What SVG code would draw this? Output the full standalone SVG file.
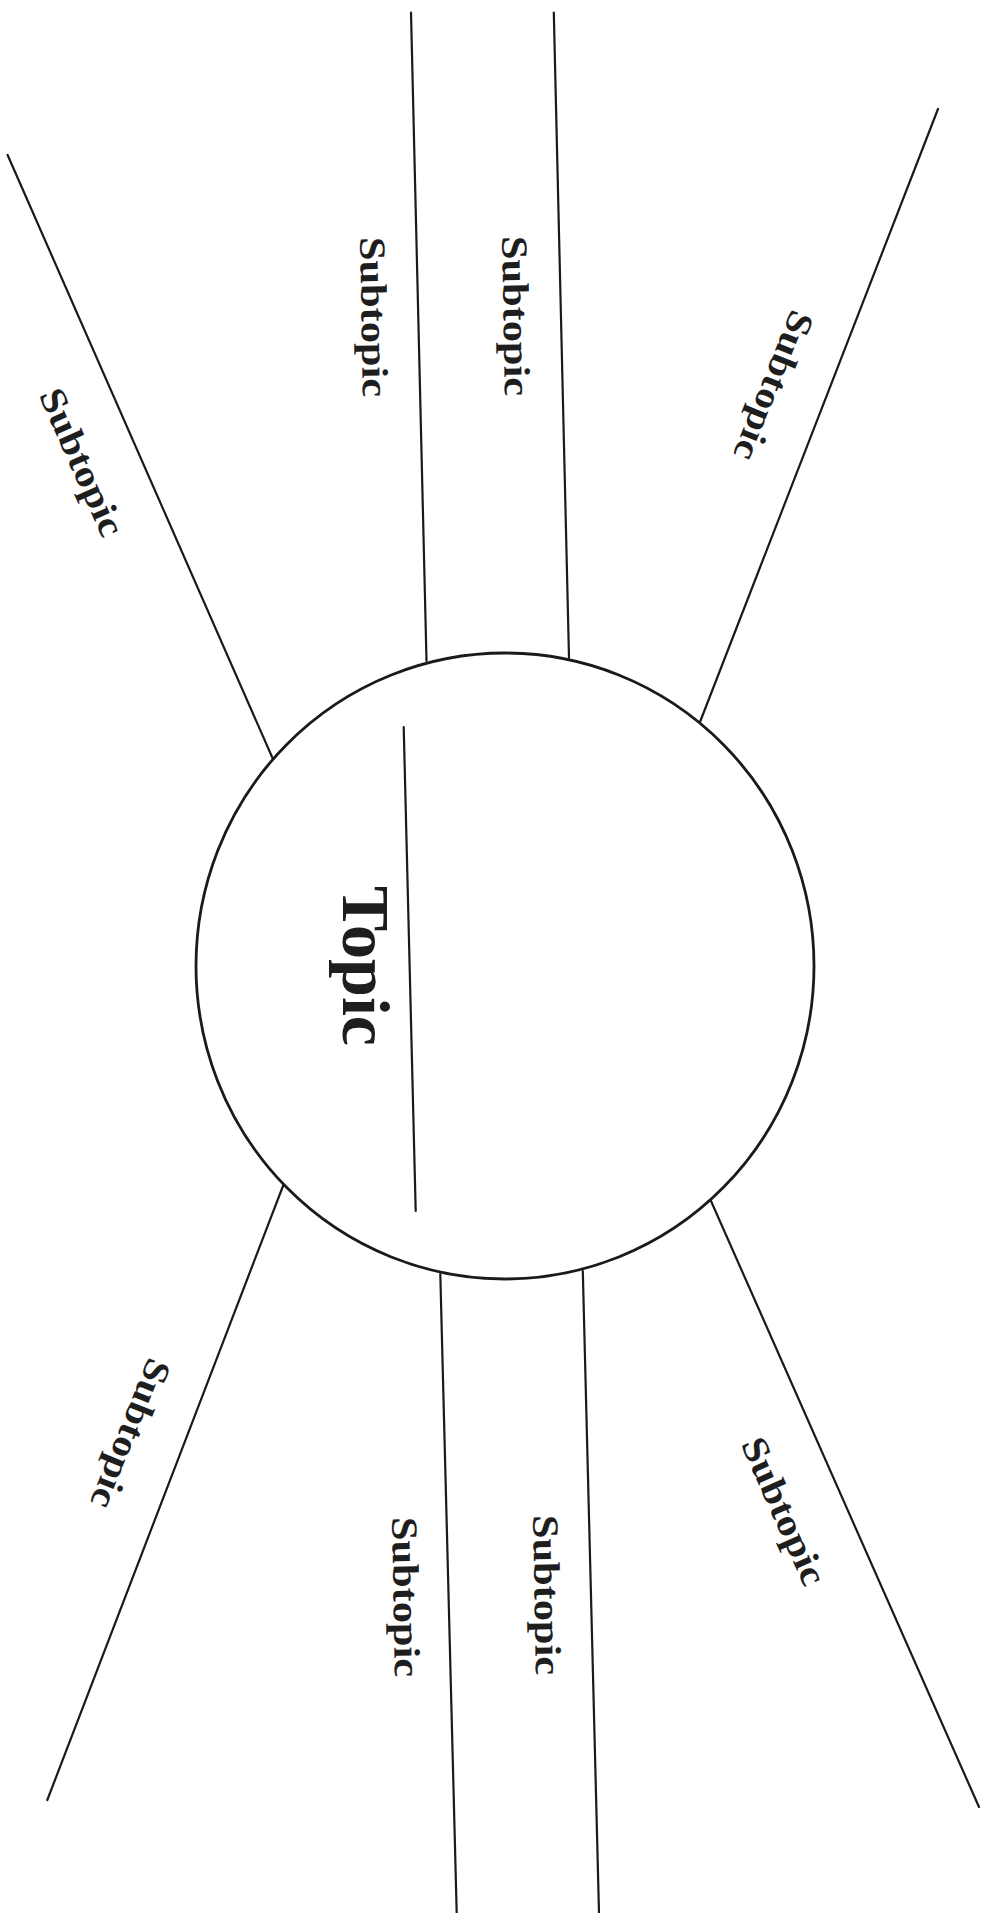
<svg xmlns="http://www.w3.org/2000/svg" width="989" height="1913" viewBox="0 0 989 1913">
<style>
.ln{stroke:#1a1a1a;stroke-width:2.2;fill:none;stroke-linecap:round}
.circ{stroke:#1a1a1a;stroke-width:2.8;fill:#fff}
.sub{font-family:"Liberation Serif","Times New Roman",serif;font-weight:bold;font-size:37px;fill:#1e1e1e;text-anchor:middle;dominant-baseline:central}
.top{font-family:"Liberation Serif","Times New Roman",serif;font-weight:bold;font-size:68px;fill:#1e1e1e}
</style>
<rect width="989" height="1913" fill="#fff"/>
<g id="connectors">
<line class="ln" x1="7.6" y1="155" x2="272.5" y2="758"/>
<line class="ln" x1="411" y1="12.5" x2="426.5" y2="661"/>
<line class="ln" x1="553.8" y1="12.5" x2="569" y2="658"/>
<line class="ln" x1="938" y1="109" x2="700" y2="722"/>
<line class="ln" x1="283" y1="1186" x2="47.3" y2="1800"/>
<line class="ln" x1="440.3" y1="1274" x2="456.7" y2="1913"/>
<line class="ln" x1="582.8" y1="1271" x2="599" y2="1913"/>
<line class="ln" x1="711" y1="1201" x2="979" y2="1807"/>
</g>
<g id="topic">
<ellipse class="circ" cx="505" cy="966" rx="309" ry="313"/>
<line class="ln" x1="403.7" y1="727" x2="415.7" y2="1211"/>
<text class="top" transform="translate(343,886) rotate(90)">Topic</text>
</g>
<g id="subtopic-1"><text class="sub" transform="translate(82,462) rotate(66)" textLength="158" lengthAdjust="spacingAndGlyphs">Subtopic</text></g>
<g id="subtopic-2"><text class="sub" transform="translate(374,317) rotate(89)" textLength="160" lengthAdjust="spacingAndGlyphs">Subtopic</text></g>
<g id="subtopic-3"><text class="sub" transform="translate(516,316) rotate(89)" textLength="160" lengthAdjust="spacingAndGlyphs">Subtopic</text></g>
<g id="subtopic-4"><text class="sub" transform="translate(774,386) rotate(112)" textLength="158" lengthAdjust="spacingAndGlyphs">Subtopic</text></g>
<g id="subtopic-5"><text class="sub" transform="translate(131,1434) rotate(112)" textLength="158" lengthAdjust="spacingAndGlyphs">Subtopic</text></g>
<g id="subtopic-6"><text class="sub" transform="translate(406,1597) rotate(89)" textLength="160" lengthAdjust="spacingAndGlyphs">Subtopic</text></g>
<g id="subtopic-7"><text class="sub" transform="translate(547,1595) rotate(89)" textLength="160" lengthAdjust="spacingAndGlyphs">Subtopic</text></g>
<g id="subtopic-8"><text class="sub" transform="translate(784,1511) rotate(66)" textLength="158" lengthAdjust="spacingAndGlyphs">Subtopic</text></g>
</svg>
